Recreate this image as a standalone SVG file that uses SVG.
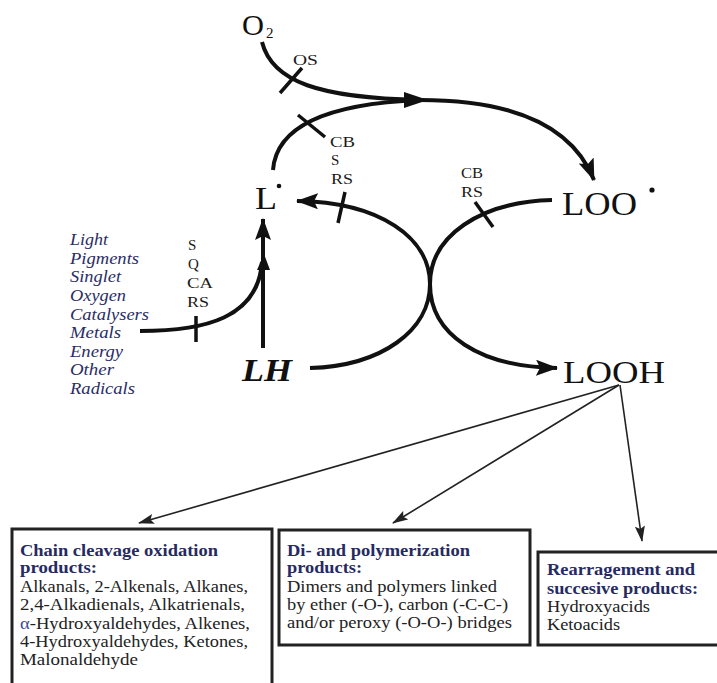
<svg xmlns="http://www.w3.org/2000/svg" width="717" height="683" viewBox="0 0 717 683">
<style>
.main{font-family:"Liberation Serif","Times New Roman",serif;fill:#111}
.lab{font-family:"Liberation Serif","Times New Roman",serif;font-size:15px;fill:#1a1a1a}
.src{font-family:"Liberation Serif","Times New Roman",serif;font-size:16px;font-style:italic;fill:#2a2d66}
.head{font-family:"Liberation Serif","Times New Roman",serif;font-size:16px;font-weight:bold;fill:#262a62}
.body{font-family:"Liberation Serif","Times New Roman",serif;font-size:16px;fill:#222}
.thick{fill:none;stroke:#111;stroke-width:4;stroke-linecap:butt}
.tick{stroke:#111;stroke-width:3.5}
.thin{fill:none;stroke:#222;stroke-width:1.6}
.box{fill:none;stroke:#222;stroke-width:3}
</style>
<defs>
<marker id="big" markerUnits="userSpaceOnUse" viewBox="0 0 22 16" refX="21" refY="8" markerWidth="22" markerHeight="16" orient="auto">
<path d="M0,0 L22,8 L0,16 L4,8 z" fill="#111"/>
</marker>
<marker id="sm" markerUnits="userSpaceOnUse" viewBox="0 0 16 10" refX="15" refY="5" markerWidth="16" markerHeight="10" orient="auto">
<path d="M0,0 L16,5 L0,10 L3,5 z" fill="#222"/>
</marker>
</defs>

<g id="connectors">
<path class="thick" d="M262,42 C272,82 320,98 420,100 C512,100 572,125 594,180" marker-end="url(#big)"/>
<polygon points="404,92 428,100 404,108" fill="#111"/>
<path class="thick" d="M273,170 C276,130 320,104 420,100"/>
<path class="thick" d="M310,368 C382,366 430,330 430,284 C430,238 380,202 297,201" marker-end="url(#big)"/>
<path class="thick" d="M552,200 C480,202 430,236 430,284 C430,335 480,367 557,368" marker-end="url(#big)"/>
<path class="thick" d="M263,348 L263,219" marker-end="url(#big)"/>
<polygon points="257,270 264,254 270,270" fill="#111"/>
<path class="thick" d="M140,331 C205,331 258,318 262,262"/>
<line class="tick" x1="280" y1="93" x2="302" y2="68"/>
<line class="tick" x1="298" y1="115" x2="325" y2="137"/>
<line class="tick" x1="345" y1="192" x2="338" y2="223"/>
<line class="tick" x1="475" y1="202" x2="493" y2="227"/>
<line class="tick" x1="196" y1="316" x2="196" y2="342"/>
<line class="thin" x1="619" y1="385" x2="139" y2="523" marker-end="url(#sm)"/>
<line class="thin" x1="619" y1="385" x2="393" y2="523" marker-end="url(#sm)"/>
<line class="thin" x1="620" y1="385" x2="642" y2="541" marker-end="url(#sm)"/>
</g>

<g id="labels">
<text class="lab" x="293" y="65" font-size="13" textLength="25" lengthAdjust="spacingAndGlyphs">OS</text>
<text class="lab" x="330" y="147" textLength="25" lengthAdjust="spacingAndGlyphs">CB</text>
<text class="lab" x="331" y="165">S</text>
<text class="lab" x="331" y="184" textLength="22" lengthAdjust="spacingAndGlyphs">RS</text>
<text class="lab" x="461" y="178" textLength="22" lengthAdjust="spacingAndGlyphs">CB</text>
<text class="lab" x="461" y="197" textLength="22" lengthAdjust="spacingAndGlyphs">RS</text>
<text class="lab" x="188" y="250">S</text>
<text class="lab" x="188" y="269">Q</text>
<text class="lab" x="187" y="288" textLength="26" lengthAdjust="spacingAndGlyphs">CA</text>
<text class="lab" x="187" y="307" textLength="22" lengthAdjust="spacingAndGlyphs">RS</text>
</g>

<g id="node-O2">
<text class="main" x="242" y="35" font-size="29" textLength="22" lengthAdjust="spacingAndGlyphs">O</text>
<text class="main" x="266" y="38" font-size="15">2</text>
</g>
<g id="node-L">
<text class="main" x="255" y="209" font-size="32" textLength="22" lengthAdjust="spacingAndGlyphs">L</text>
<circle cx="279" cy="186" r="2.3" fill="#111"/>
</g>
<g id="node-LOO">
<text class="main" x="562" y="215" font-size="33" textLength="75" lengthAdjust="spacingAndGlyphs">LOO</text>
<circle cx="652" cy="190" r="2.6" fill="#111"/>
</g>
<g id="node-LOOH">
<text class="main" x="563" y="383" font-size="32" textLength="102" lengthAdjust="spacingAndGlyphs">LOOH</text>
</g>
<g id="node-LH">
<text class="main" x="242" y="381" font-size="32" font-style="italic" font-weight="bold" fill="#1c1f48" textLength="50" lengthAdjust="spacingAndGlyphs">LH</text>
</g>

<g id="node-initiators">
<text class="src" x="70" y="245" textLength="38" lengthAdjust="spacingAndGlyphs">Light</text>
<text class="src" x="70" y="264" textLength="69" lengthAdjust="spacingAndGlyphs">Pigments</text>
<text class="src" x="70" y="282" textLength="51" lengthAdjust="spacingAndGlyphs">Singlet</text>
<text class="src" x="70" y="301" textLength="56" lengthAdjust="spacingAndGlyphs">Oxygen</text>
<text class="src" x="70" y="320" textLength="79" lengthAdjust="spacingAndGlyphs">Catalysers</text>
<text class="src" x="70" y="338" textLength="51" lengthAdjust="spacingAndGlyphs">Metals</text>
<text class="src" x="70" y="357" textLength="53" lengthAdjust="spacingAndGlyphs">Energy</text>
<text class="src" x="70" y="375" textLength="44" lengthAdjust="spacingAndGlyphs">Other</text>
<text class="src" x="70" y="394" textLength="65" lengthAdjust="spacingAndGlyphs">Radicals</text>
</g>

<g id="node-chain-cleavage">
<rect class="box" x="12" y="529" width="260" height="200"/>
<text class="head" x="20" y="556" textLength="198" lengthAdjust="spacingAndGlyphs">Chain cleavage oxidation</text>
<text class="head" x="20" y="573" textLength="77" lengthAdjust="spacingAndGlyphs">products:</text>
<text class="body" x="20" y="592" textLength="228" lengthAdjust="spacingAndGlyphs">Alkanals, 2-Alkenals, Alkanes,</text>
<text class="body" x="20" y="610" textLength="225" lengthAdjust="spacingAndGlyphs">2,4-Alkadienals, Alkatrienals,</text>
<text class="body" x="20" y="629" textLength="230" lengthAdjust="spacingAndGlyphs"><tspan fill="#3a4a9a">α</tspan>-Hydroxyaldehydes, Alkenes,</text>
<text class="body" x="20" y="647" textLength="228" lengthAdjust="spacingAndGlyphs">4-Hydroxyaldehydes, Ketones,</text>
<text class="body" x="20" y="665" textLength="118" lengthAdjust="spacingAndGlyphs">Malonaldehyde</text>
</g>

<g id="node-polymerization">
<rect class="box" x="279" y="530" width="251" height="115"/>
<text class="head" x="287" y="556" textLength="183" lengthAdjust="spacingAndGlyphs">Di- and polymerization</text>
<text class="head" x="287" y="573" textLength="75" lengthAdjust="spacingAndGlyphs">products:</text>
<text class="body" x="287" y="592" textLength="210" lengthAdjust="spacingAndGlyphs">Dimers and polymers linked</text>
<text class="body" x="287" y="610" textLength="221" lengthAdjust="spacingAndGlyphs">by ether (-O-), carbon (-C-C-)</text>
<text class="body" x="287" y="628" textLength="225" lengthAdjust="spacingAndGlyphs">and/or peroxy (-O-O-) bridges</text>
</g>

<g id="node-rearrangement">
<rect class="box" x="538" y="552" width="200" height="93"/>
<text class="head" x="547" y="575" textLength="148" lengthAdjust="spacingAndGlyphs">Rearragement and</text>
<text class="head" x="547" y="594" textLength="151" lengthAdjust="spacingAndGlyphs">succesive products:</text>
<text class="body" x="547" y="612" textLength="103" lengthAdjust="spacingAndGlyphs">Hydroxyacids</text>
<text class="body" x="547" y="630" textLength="73" lengthAdjust="spacingAndGlyphs">Ketoacids</text>
</g>
</svg>
